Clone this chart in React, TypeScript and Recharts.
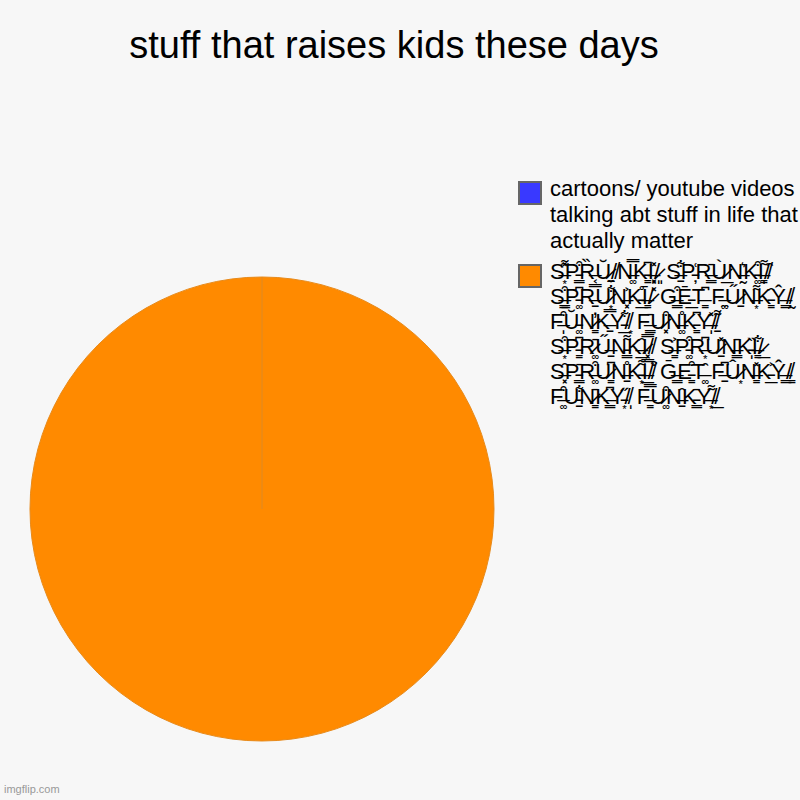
import { Cell, Legend, Pie, PieChart } from "recharts";

const BG = "#f7f7f7";
const COLORS = ["#3939ff", "#ff8a00"];

const CATEGORIES = [
  "cartoons/ youtube videos talking abt stuff in life that actually matter",
  "S\u0336\u034c\u0359\u033dP\u0335\u0352\u0347R\u0336\u030f\u0354U\u0337\u0306\u033c\u0320/\u0338N\u0336\u033f\u035aK\u0335\u0346\u0333I\u0336\u033d\u0353\u0359/\u0337\u0348 " +
    "S\u0336\u034b\u0320P\u0335\u0351\u0326R\u0336\u0304\u0347U\u0337\u0300\u0332N\u0336\u035b\u0330K\u0335\u0352\u035aI\u0336\u034c\u0329\u0333/\u0338\u0311 " +
    "S\u0336\u0352\u0333\u0347P\u0335\u0346\u035aR\u0336\u033f\u0320U\u0337\u034b\u0359N\u0336\u0350\u0353K\u0335\u030a\u0332I\u0336\u0304\u0333/\u0337\u033d " +
    "G\u0336\u0352\u0347E\u0335\u0304\u0332T\u0336\u0346\u0333 F\u0336\u033c\u035aU\u0337\u030b\u0320N\u0336\u034c\u0359K\u0335\u0311\u0333Y\u0336\u0302\u0347/\u0338\u0330 " +
    "F\u0336\u0352\u0329U\u0335\u0306\u035aN\u0337\u0313\u0333K\u0336\u033f\u0320Y\u0335\u034b\u0332/\u0338\u0359 " +
    "F\u0336\u0304\u0347U\u0337\u0352\u0353N\u0336\u030a\u035aK\u0335\u0346\u0333Y\u0336\u033d\u0329/\u0338\u034c\u0320 " +
    "S\u0336\u0352\u0359P\u0335\u0346\u0333R\u0337\u0304\u035aU\u0336\u030b\u0320N\u0335\u034c\u0347K\u0336\u0311\u0332I\u0337\u033f\u0353/\u0338 " +
    "S\u0336\u0350\u0333P\u0335\u0352\u035aR\u0336\u0346\u0359U\u0337\u033d\u0320N\u0336\u0304\u0347K\u0335\u030f\u0329I\u0336\u034b\u0333/\u0337\u0332 " +
    "S\u0336\u0311\u0353P\u0335\u0304\u0347R\u0336\u0352\u035aU\u0337\u0346\u0333N\u0336\u030a\u0320K\u0335\u034c\u0359I\u0336\u033f\u0332/\u0338\u0352 " +
    "G\u0336\u0304\u0347E\u0335\u0352\u0333T\u0336\u0311\u035a F\u0336\u0346\u0320U\u0337\u0302\u0359N\u0336\u033d\u0333K\u0335\u0350\u0332Y\u0336\u0302\u0347/\u0338\u0333 " +
    "F\u0336\u0352\u035aU\u0335\u034b\u0320N\u0337\u0304\u0333K\u0336\u0346\u0347Y\u0335\u030b\u0359/\u0338\u0329 " +
    "F\u0336\u033f\u0333U\u0337\u0352\u035aN\u0336\u0311\u0320K\u0335\u0304\u0347Y\u0336\u034c\u0359/\u0338\u0332",
];
const VALUES = [0, 100];

const data = CATEGORIES.map((name, i) => ({ name, value: VALUES[i] }));

function LegendBox() {
  return (
    <div style={{ fontFamily: "'Liberation Sans', Arial, sans-serif" }}>
      {CATEGORIES.map((name, i) => (
        <div
          key={i}
          style={{ display: "flex", alignItems: "flex-start", marginBottom: 10 }}
        >
          <span
            style={{
              display: "inline-block",
              width: 20,
              height: 20,
              background: COLORS[i],
              border: "2px solid #666",
              flexShrink: 0,
            }}
          />
          <span
            style={{
              marginLeft: 8,
              fontSize: 22,
              lineHeight: i === 0 ? "26px" : "25px",
              color: "#000",
              marginTop: -5,
              width: 252,
            }}
          >
            {name}
          </span>
        </div>
      ))}
    </div>
  );
}

export default function App() {
  return (
    <div
      style={{
        position: "absolute",
        left: 0,
        top: 0,
        width: 800,
        height: 800,
        background: BG,
        fontFamily: "'Liberation Sans', Arial, sans-serif",
      }}
    >
      <div
        style={{
          position: "absolute",
          left: 0,
          top: 24,
          width: 788,
          textAlign: "center",
          fontSize: 38,
          color: "#000",
        }}
      >
        stuff that raises kids these days
      </div>
      <PieChart width={800} height={800} style={{ position: "absolute", left: 0, top: 0 }}>
        <Pie
          data={data}
          dataKey="value"
          nameKey="name"
          cx={257}
          cy={504}
          outerRadius={232}
          startAngle={90}
          endAngle={-270}
          isAnimationActive={false}
        >
          {data.map((d, i) => (
            <Cell
              key={d.name}
              fill={COLORS[i]}
              stroke={i === 1 ? "#e88a1a" : "none"}
              strokeWidth={1}
            />
          ))}
        </Pie>
        <Legend
          layout="vertical"
          content={() => <LegendBox />}
          wrapperStyle={{ left: 518, top: 181, width: 282 }}
        />
      </PieChart>
      <div
        style={{
          position: "absolute",
          left: 4,
          top: 783,
          fontSize: 11,
          color: "#999",
        }}
      >
        imgflip.com
      </div>
    </div>
  );
}
